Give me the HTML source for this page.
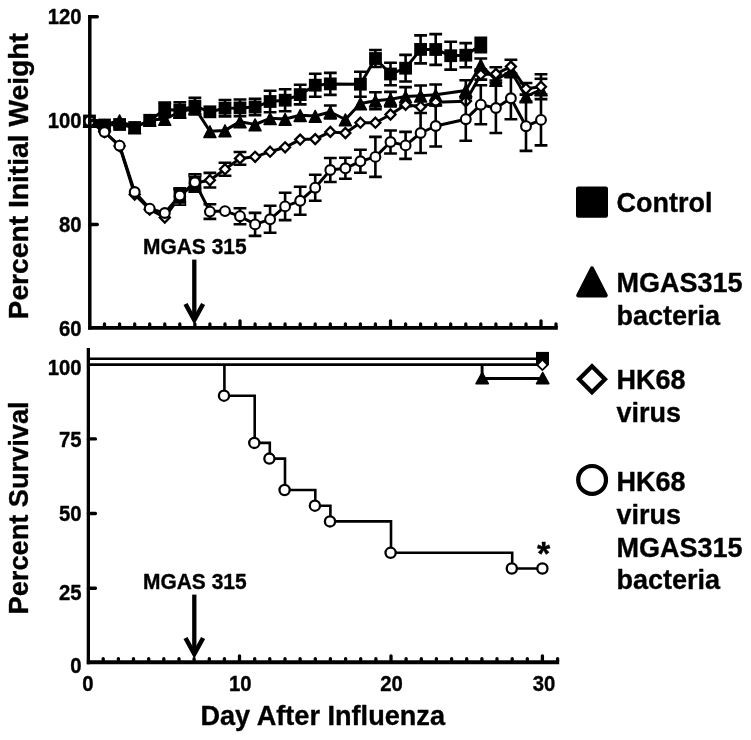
<!DOCTYPE html>
<html><head><meta charset="utf-8"><title>Chart</title>
<style>
html,body{margin:0;padding:0;background:#fff;}
body{width:751px;height:740px;position:relative;overflow:hidden;font-family:"Liberation Sans",sans-serif;}
</style></head><body>
<svg width="751" height="740" viewBox="0 0 751 740" style="position:absolute;left:0;top:0;display:block;will-change:transform">
<style>text{stroke:#000;stroke-width:0.35px;stroke-linejoin:round}</style>
<rect width="751" height="740" fill="#fff"/>
<defs><filter id="soft" x="0" y="0" width="751" height="740" filterUnits="userSpaceOnUse"><feGaussianBlur stdDeviation="0.42"/></filter></defs>
<g filter="url(#soft)" font-family="'Liberation Sans', sans-serif" font-weight="bold" fill="#000" stroke="#000" stroke-width="0">
<path fill="none" stroke="#000" stroke-width="2.6" d="M164.8 102.6V117.0M158.3 102.6H171.2M158.3 117.0H171.2M179.8 102.3V117.7M173.4 102.3H186.2M173.4 117.7H186.2M194.9 97.7V114.5M188.5 97.7H201.3M188.5 114.5H201.3M225.0 100.0V116.4M218.6 100.0H231.4M218.6 116.4H231.4M240.0 99.5V116.3M233.6 99.5H246.4M233.6 116.3H246.4M255.1 98.9V115.3M248.7 98.9H261.4M248.7 115.3H261.4M270.1 90.7V112.3M263.7 90.7H276.5M263.7 112.3H276.5M285.1 89.2V111.2M278.8 89.2H291.5M278.8 111.2H291.5M300.2 84.8V104.4M293.8 84.8H306.6M293.8 104.4H306.6M315.2 73.7V96.7M308.9 73.7H321.6M308.9 96.7H321.6M330.3 72.9V94.9M323.9 72.9H336.7M323.9 94.9H336.7M360.4 71.7V96.7M354.0 71.7H366.8M354.0 96.7H366.8M375.4 50.0V67.0M369.1 50.0H381.8M369.1 67.0H381.8M390.5 62.7V85.3M384.1 62.7H396.9M384.1 85.3H396.9M405.6 54.9V81.5M399.2 54.9H411.9M399.2 81.5H411.9M420.6 35.4V63.4M414.2 35.4H427.0M414.2 63.4H427.0M435.7 34.1V64.9M429.3 34.1H442.1M429.3 64.9H442.1M450.7 41.8V69.6M444.3 41.8H457.1M444.3 69.6H457.1M465.8 43.1V67.3M459.4 43.1H472.1M459.4 67.3H472.1M480.8 37.7V52.3M474.4 37.7H487.2M474.4 52.3H487.2"/>
<polyline fill="none" stroke="#000" stroke-width="3.0" stroke-linejoin="round" points="89.5,121.0 104.5,125.0 119.6,124.5 134.7,127.5 149.7,120.3 164.8,109.8 179.8,110.0 194.9,106.1 209.9,111.8 225.0,108.2 240.0,107.9 255.1,107.1 270.1,101.5 285.1,100.2 300.2,94.6 315.2,85.2 330.3,83.9 360.4,84.2 375.4,58.5 390.5,74.0 405.6,68.2 420.6,49.4 435.7,49.5 450.7,55.7 465.8,55.2 480.8,45.0"/>
<rect x="83.1" y="114.6" width="12.8" height="12.8" fill="#000"/><rect x="98.1" y="118.6" width="12.8" height="12.8" fill="#000"/><rect x="113.2" y="118.1" width="12.8" height="12.8" fill="#000"/><rect x="128.2" y="121.1" width="12.8" height="12.8" fill="#000"/><rect x="143.3" y="113.9" width="12.8" height="12.8" fill="#000"/><rect x="158.3" y="103.4" width="12.8" height="12.8" fill="#000"/><rect x="173.4" y="103.6" width="12.8" height="12.8" fill="#000"/><rect x="188.5" y="99.7" width="12.8" height="12.8" fill="#000"/><rect x="203.5" y="105.4" width="12.8" height="12.8" fill="#000"/><rect x="218.6" y="101.8" width="12.8" height="12.8" fill="#000"/><rect x="233.6" y="101.5" width="12.8" height="12.8" fill="#000"/><rect x="248.7" y="100.7" width="12.8" height="12.8" fill="#000"/><rect x="263.7" y="95.1" width="12.8" height="12.8" fill="#000"/><rect x="278.8" y="93.8" width="12.8" height="12.8" fill="#000"/><rect x="293.8" y="88.2" width="12.8" height="12.8" fill="#000"/><rect x="308.9" y="78.8" width="12.8" height="12.8" fill="#000"/><rect x="323.9" y="77.5" width="12.8" height="12.8" fill="#000"/><rect x="354.0" y="77.8" width="12.8" height="12.8" fill="#000"/><rect x="369.1" y="52.1" width="12.8" height="12.8" fill="#000"/><rect x="384.1" y="67.6" width="12.8" height="12.8" fill="#000"/><rect x="399.2" y="61.8" width="12.8" height="12.8" fill="#000"/><rect x="414.2" y="43.0" width="12.8" height="12.8" fill="#000"/><rect x="429.3" y="43.1" width="12.8" height="12.8" fill="#000"/><rect x="444.3" y="49.3" width="12.8" height="12.8" fill="#000"/><rect x="459.4" y="48.8" width="12.8" height="12.8" fill="#000"/><rect x="474.4" y="38.6" width="12.8" height="12.8" fill="#000"/>
<path fill="none" stroke="#000" stroke-width="2.6" d="M330.3 105.5V118.5M323.9 105.5H336.7M323.9 118.5H336.7M375.4 92.3V109.3M369.1 92.3H381.8M369.1 109.3H381.8M390.5 91.9V106.5M384.1 91.9H396.9M384.1 106.5H396.9M405.6 87.1V106.1M399.2 87.1H411.9M399.2 106.1H411.9M420.6 85.5V105.9M414.2 85.5H427.0M414.2 105.9H427.0M435.7 84.5V105.1M429.3 84.5H442.1M429.3 105.1H442.1M465.8 80.2V100.8M459.4 80.2H472.1M459.4 100.8H472.1M480.8 58.5V71.5M474.4 58.5H487.2M474.4 71.5H487.2"/>
<polyline fill="none" stroke="#000" stroke-width="3.0" stroke-linejoin="round" points="89.5,121.0 104.5,125.0 119.6,120.5 134.7,127.5 149.7,120.0 164.8,119.0 179.8,112.0 194.9,108.0 209.9,131.3 225.0,130.4 240.0,121.6 255.1,124.5 270.1,118.3 285.1,119.0 300.2,115.2 315.2,116.0 330.3,112.0 345.4,119.5 360.4,103.5 375.4,100.8 390.5,99.2 405.6,96.6 420.6,95.7 435.7,94.8 465.8,90.5 480.8,65.0 495.9,80.0 510.9,71.0 526.0,96.5 541.0,89.5"/>
<path d="M89.5 115.4L95.6 127.3L83.4 127.3Z" fill="#000" stroke="#000" stroke-width="1.4" stroke-linejoin="round"/><path d="M104.5 119.4L110.6 131.3L98.5 131.3Z" fill="#000" stroke="#000" stroke-width="1.4" stroke-linejoin="round"/><path d="M119.6 114.9L125.7 126.8L113.5 126.8Z" fill="#000" stroke="#000" stroke-width="1.4" stroke-linejoin="round"/><path d="M134.7 121.9L140.7 133.8L128.6 133.8Z" fill="#000" stroke="#000" stroke-width="1.4" stroke-linejoin="round"/><path d="M149.7 114.4L155.8 126.3L143.6 126.3Z" fill="#000" stroke="#000" stroke-width="1.4" stroke-linejoin="round"/><path d="M164.8 113.4L170.8 125.3L158.7 125.3Z" fill="#000" stroke="#000" stroke-width="1.4" stroke-linejoin="round"/><path d="M179.8 106.4L185.9 118.3L173.7 118.3Z" fill="#000" stroke="#000" stroke-width="1.4" stroke-linejoin="round"/><path d="M194.9 102.4L200.9 114.3L188.8 114.3Z" fill="#000" stroke="#000" stroke-width="1.4" stroke-linejoin="round"/><path d="M209.9 125.7L216.0 137.6L203.8 137.6Z" fill="#000" stroke="#000" stroke-width="1.4" stroke-linejoin="round"/><path d="M225.0 124.8L231.0 136.7L218.9 136.7Z" fill="#000" stroke="#000" stroke-width="1.4" stroke-linejoin="round"/><path d="M240.0 116.0L246.1 127.9L233.9 127.9Z" fill="#000" stroke="#000" stroke-width="1.4" stroke-linejoin="round"/><path d="M255.1 118.9L261.1 130.8L249.0 130.8Z" fill="#000" stroke="#000" stroke-width="1.4" stroke-linejoin="round"/><path d="M270.1 112.7L276.2 124.6L264.0 124.6Z" fill="#000" stroke="#000" stroke-width="1.4" stroke-linejoin="round"/><path d="M285.1 113.4L291.2 125.3L279.1 125.3Z" fill="#000" stroke="#000" stroke-width="1.4" stroke-linejoin="round"/><path d="M300.2 109.6L306.3 121.5L294.1 121.5Z" fill="#000" stroke="#000" stroke-width="1.4" stroke-linejoin="round"/><path d="M315.2 110.4L321.3 122.3L309.2 122.3Z" fill="#000" stroke="#000" stroke-width="1.4" stroke-linejoin="round"/><path d="M330.3 106.4L336.4 118.3L324.2 118.3Z" fill="#000" stroke="#000" stroke-width="1.4" stroke-linejoin="round"/><path d="M345.4 113.9L351.4 125.8L339.3 125.8Z" fill="#000" stroke="#000" stroke-width="1.4" stroke-linejoin="round"/><path d="M360.4 97.9L366.5 109.8L354.3 109.8Z" fill="#000" stroke="#000" stroke-width="1.4" stroke-linejoin="round"/><path d="M375.4 95.2L381.5 107.1L369.4 107.1Z" fill="#000" stroke="#000" stroke-width="1.4" stroke-linejoin="round"/><path d="M390.5 93.6L396.6 105.5L384.4 105.5Z" fill="#000" stroke="#000" stroke-width="1.4" stroke-linejoin="round"/><path d="M405.6 91.0L411.6 102.9L399.5 102.9Z" fill="#000" stroke="#000" stroke-width="1.4" stroke-linejoin="round"/><path d="M420.6 90.1L426.7 102.0L414.5 102.0Z" fill="#000" stroke="#000" stroke-width="1.4" stroke-linejoin="round"/><path d="M435.7 89.2L441.7 101.1L429.6 101.1Z" fill="#000" stroke="#000" stroke-width="1.4" stroke-linejoin="round"/><path d="M465.8 84.9L471.8 96.8L459.7 96.8Z" fill="#000" stroke="#000" stroke-width="1.4" stroke-linejoin="round"/><path d="M480.8 59.4L486.9 71.3L474.7 71.3Z" fill="#000" stroke="#000" stroke-width="1.4" stroke-linejoin="round"/><path d="M495.9 74.4L501.9 86.3L489.8 86.3Z" fill="#000" stroke="#000" stroke-width="1.4" stroke-linejoin="round"/><path d="M510.9 65.4L517.0 77.3L504.8 77.3Z" fill="#000" stroke="#000" stroke-width="1.4" stroke-linejoin="round"/><path d="M526.0 90.9L532.0 102.8L519.9 102.8Z" fill="#000" stroke="#000" stroke-width="1.4" stroke-linejoin="round"/><path d="M541.0 83.9L547.1 95.8L534.9 95.8Z" fill="#000" stroke="#000" stroke-width="1.4" stroke-linejoin="round"/>
<path fill="none" stroke="#000" stroke-width="2.6" d="M179.8 188.2V204.8M173.4 188.2H186.2M173.4 204.8H186.2M194.9 174.3V191.7M188.5 174.3H201.3M188.5 191.7H201.3M209.9 172.9V187.5M203.5 172.9H216.3M203.5 187.5H216.3M225.0 162.7V175.7M218.6 162.7H231.4M218.6 175.7H231.4M240.0 152.0V164.8M233.6 152.0H246.4M233.6 164.8H246.4M480.8 69.6V79.6M474.4 69.6H487.2M474.4 79.6H487.2M495.9 67.3V80.5M489.5 67.3H502.2M489.5 80.5H502.2M510.9 59.7V73.5M504.5 59.7H517.3M504.5 73.5H517.3M526.0 83.0V94.6M519.6 83.0H532.4M519.6 94.6H532.4M541.0 74.3V99.1M534.6 74.3H547.4M534.6 99.1H547.4"/>
<polyline fill="none" stroke="#000" stroke-width="3.0" stroke-linejoin="round" points="89.5,121.0 104.5,132.0 119.6,146.0 134.7,194.5 149.7,209.5 164.8,217.5 179.8,196.5 194.9,183.0 209.9,180.2 225.0,169.2 240.0,158.4 255.1,156.8 270.1,151.7 285.1,147.3 300.2,139.6 315.2,139.1 330.3,131.9 345.4,133.0 360.4,122.7 375.4,122.7 390.5,114.5 405.6,104.8 420.6,106.8 435.7,102.3 465.8,101.3 480.8,74.6 495.9,73.9 510.9,66.6 526.0,88.8 541.0,86.7"/>
<path d="M89.5 116.0L94.5 121.0L89.5 126.0L84.5 121.0Z" fill="#fff" stroke="#000" stroke-width="2.3"/><path d="M104.5 127.0L109.5 132.0L104.5 137.0L99.5 132.0Z" fill="#fff" stroke="#000" stroke-width="2.3"/><path d="M119.6 141.0L124.6 146.0L119.6 151.0L114.6 146.0Z" fill="#fff" stroke="#000" stroke-width="2.3"/><path d="M134.7 189.5L139.7 194.5L134.7 199.5L129.7 194.5Z" fill="#fff" stroke="#000" stroke-width="2.3"/><path d="M149.7 204.5L154.7 209.5L149.7 214.5L144.7 209.5Z" fill="#fff" stroke="#000" stroke-width="2.3"/><path d="M164.8 212.5L169.8 217.5L164.8 222.5L159.8 217.5Z" fill="#fff" stroke="#000" stroke-width="2.3"/><path d="M179.8 191.5L184.8 196.5L179.8 201.5L174.8 196.5Z" fill="#fff" stroke="#000" stroke-width="2.3"/><path d="M194.9 178.0L199.9 183.0L194.9 188.0L189.9 183.0Z" fill="#fff" stroke="#000" stroke-width="2.3"/><path d="M209.9 175.2L214.9 180.2L209.9 185.2L204.9 180.2Z" fill="#fff" stroke="#000" stroke-width="2.3"/><path d="M225.0 164.2L230.0 169.2L225.0 174.2L220.0 169.2Z" fill="#fff" stroke="#000" stroke-width="2.3"/><path d="M240.0 153.4L245.0 158.4L240.0 163.4L235.0 158.4Z" fill="#fff" stroke="#000" stroke-width="2.3"/><path d="M255.1 151.8L260.1 156.8L255.1 161.8L250.1 156.8Z" fill="#fff" stroke="#000" stroke-width="2.3"/><path d="M270.1 146.7L275.1 151.7L270.1 156.7L265.1 151.7Z" fill="#fff" stroke="#000" stroke-width="2.3"/><path d="M285.1 142.3L290.1 147.3L285.1 152.3L280.1 147.3Z" fill="#fff" stroke="#000" stroke-width="2.3"/><path d="M300.2 134.6L305.2 139.6L300.2 144.6L295.2 139.6Z" fill="#fff" stroke="#000" stroke-width="2.3"/><path d="M315.2 134.1L320.2 139.1L315.2 144.1L310.2 139.1Z" fill="#fff" stroke="#000" stroke-width="2.3"/><path d="M330.3 126.9L335.3 131.9L330.3 136.9L325.3 131.9Z" fill="#fff" stroke="#000" stroke-width="2.3"/><path d="M345.4 128.0L350.4 133.0L345.4 138.0L340.4 133.0Z" fill="#fff" stroke="#000" stroke-width="2.3"/><path d="M360.4 117.7L365.4 122.7L360.4 127.7L355.4 122.7Z" fill="#fff" stroke="#000" stroke-width="2.3"/><path d="M375.4 117.7L380.4 122.7L375.4 127.7L370.4 122.7Z" fill="#fff" stroke="#000" stroke-width="2.3"/><path d="M390.5 109.5L395.5 114.5L390.5 119.5L385.5 114.5Z" fill="#fff" stroke="#000" stroke-width="2.3"/><path d="M405.6 99.8L410.6 104.8L405.6 109.8L400.6 104.8Z" fill="#fff" stroke="#000" stroke-width="2.3"/><path d="M420.6 101.8L425.6 106.8L420.6 111.8L415.6 106.8Z" fill="#fff" stroke="#000" stroke-width="2.3"/><path d="M435.7 97.3L440.7 102.3L435.7 107.3L430.7 102.3Z" fill="#fff" stroke="#000" stroke-width="2.3"/><path d="M465.8 96.3L470.8 101.3L465.8 106.3L460.8 101.3Z" fill="#fff" stroke="#000" stroke-width="2.3"/><path d="M480.8 69.6L485.8 74.6L480.8 79.6L475.8 74.6Z" fill="#fff" stroke="#000" stroke-width="2.3"/><path d="M495.9 68.9L500.9 73.9L495.9 78.9L490.9 73.9Z" fill="#fff" stroke="#000" stroke-width="2.3"/><path d="M510.9 61.6L515.9 66.6L510.9 71.6L505.9 66.6Z" fill="#fff" stroke="#000" stroke-width="2.3"/><path d="M526.0 83.8L531.0 88.8L526.0 93.8L521.0 88.8Z" fill="#fff" stroke="#000" stroke-width="2.3"/><path d="M541.0 81.7L546.0 86.7L541.0 91.7L536.0 86.7Z" fill="#fff" stroke="#000" stroke-width="2.3"/>
<path fill="none" stroke="#000" stroke-width="2.6" d="M179.8 189.3V201.9M173.4 189.3H186.2M173.4 201.9H186.2M194.9 176.0V188.6M188.5 176.0H201.3M188.5 188.6H201.3M209.9 204.3V218.9M203.5 204.3H216.3M203.5 218.9H216.3M240.0 208.2V224.2M233.6 208.2H246.4M233.6 224.2H246.4M255.1 212.9V235.9M248.7 212.9H261.4M248.7 235.9H261.4M270.1 205.8V232.8M263.7 205.8H276.5M263.7 232.8H276.5M285.1 192.7V220.1M278.8 192.7H291.5M278.8 220.1H291.5M300.2 186.8V214.8M293.8 186.8H306.6M293.8 214.8H306.6M315.2 174.7V200.7M308.9 174.7H321.6M308.9 200.7H321.6M330.3 158.0V182.0M323.9 158.0H336.7M323.9 182.0H336.7M345.4 157.8V178.8M339.0 157.8H351.8M339.0 178.8H351.8M360.4 149.8V172.8M354.0 149.8H366.8M354.0 172.8H366.8M375.4 136.9V176.9M369.1 136.9H381.8M369.1 176.9H381.8M390.5 130.5V153.5M384.1 130.5H396.9M384.1 153.5H396.9M405.6 131.9V158.9M399.2 131.9H411.9M399.2 158.9H411.9M420.6 113.0V153.0M414.2 113.0H427.0M414.2 153.0H427.0M435.7 105.5V146.5M429.3 105.5H442.1M429.3 146.5H442.1M465.8 97.7V140.7M459.4 97.7H472.1M459.4 140.7H472.1M480.8 85.2V124.2M474.4 85.2H487.2M474.4 124.2H487.2M495.9 83.0V133.0M489.5 83.0H502.2M489.5 133.0H502.2M510.9 77.3V119.3M504.5 77.3H517.3M504.5 119.3H517.3M526.0 101.5V150.9M519.6 101.5H532.4M519.6 150.9H532.4M541.0 94.4V145.4M534.6 94.4H547.4M534.6 145.4H547.4"/>
<polyline fill="none" stroke="#000" stroke-width="3.0" stroke-linejoin="round" points="89.5,121.0 104.5,132.0 119.6,145.7 134.7,192.0 149.7,208.6 164.8,213.0 179.8,195.6 194.9,182.3 209.9,211.6 225.0,211.1 240.0,216.2 255.1,224.4 270.1,219.3 285.1,206.4 300.2,200.8 315.2,187.7 330.3,170.0 345.4,168.3 360.4,161.3 375.4,156.9 390.5,142.0 405.6,145.4 420.6,133.0 435.7,126.0 465.8,119.2 480.8,104.7 495.9,108.0 510.9,98.3 526.0,126.2 541.0,119.9"/>
<rect x="173.6" y="188.4" width="12.4" height="17.6" fill="#000"/>
<rect x="188.7" y="173.0" width="12.6" height="19.6" fill="#000"/>
<path fill="none" stroke="#8a8a8a" stroke-width="0.7" d="M189.3 175.5h4.5m2.5 0h4M174.4 204.0h4m2.5 0h4"/>
<circle cx="89.5" cy="121.0" r="4.9" fill="#fff" stroke="#000" stroke-width="2.1"/><circle cx="104.5" cy="132.0" r="4.9" fill="#fff" stroke="#000" stroke-width="2.1"/><circle cx="119.6" cy="145.7" r="4.9" fill="#fff" stroke="#000" stroke-width="2.1"/><circle cx="134.7" cy="192.0" r="4.9" fill="#fff" stroke="#000" stroke-width="2.1"/><circle cx="149.7" cy="208.6" r="4.9" fill="#fff" stroke="#000" stroke-width="2.1"/><circle cx="164.8" cy="213.0" r="4.9" fill="#fff" stroke="#000" stroke-width="2.1"/><circle cx="179.8" cy="195.6" r="4.9" fill="#fff" stroke="#000" stroke-width="2.1"/><circle cx="194.9" cy="182.3" r="4.9" fill="#fff" stroke="#000" stroke-width="2.1"/><circle cx="209.9" cy="211.6" r="4.9" fill="#fff" stroke="#000" stroke-width="2.1"/><circle cx="225.0" cy="211.1" r="4.9" fill="#fff" stroke="#000" stroke-width="2.1"/><circle cx="240.0" cy="216.2" r="4.9" fill="#fff" stroke="#000" stroke-width="2.1"/><circle cx="255.1" cy="224.4" r="4.9" fill="#fff" stroke="#000" stroke-width="2.1"/><circle cx="270.1" cy="219.3" r="4.9" fill="#fff" stroke="#000" stroke-width="2.1"/><circle cx="285.1" cy="206.4" r="4.9" fill="#fff" stroke="#000" stroke-width="2.1"/><circle cx="300.2" cy="200.8" r="4.9" fill="#fff" stroke="#000" stroke-width="2.1"/><circle cx="315.2" cy="187.7" r="4.9" fill="#fff" stroke="#000" stroke-width="2.1"/><circle cx="330.3" cy="170.0" r="4.9" fill="#fff" stroke="#000" stroke-width="2.1"/><circle cx="345.4" cy="168.3" r="4.9" fill="#fff" stroke="#000" stroke-width="2.1"/><circle cx="360.4" cy="161.3" r="4.9" fill="#fff" stroke="#000" stroke-width="2.1"/><circle cx="375.4" cy="156.9" r="4.9" fill="#fff" stroke="#000" stroke-width="2.1"/><circle cx="390.5" cy="142.0" r="4.9" fill="#fff" stroke="#000" stroke-width="2.1"/><circle cx="405.6" cy="145.4" r="4.9" fill="#fff" stroke="#000" stroke-width="2.1"/><circle cx="420.6" cy="133.0" r="4.9" fill="#fff" stroke="#000" stroke-width="2.1"/><circle cx="435.7" cy="126.0" r="4.9" fill="#fff" stroke="#000" stroke-width="2.1"/><circle cx="465.8" cy="119.2" r="4.9" fill="#fff" stroke="#000" stroke-width="2.1"/><circle cx="480.8" cy="104.7" r="4.9" fill="#fff" stroke="#000" stroke-width="2.1"/><circle cx="495.9" cy="108.0" r="4.9" fill="#fff" stroke="#000" stroke-width="2.1"/><circle cx="510.9" cy="98.3" r="4.9" fill="#fff" stroke="#000" stroke-width="2.1"/><circle cx="526.0" cy="126.2" r="4.9" fill="#fff" stroke="#000" stroke-width="2.1"/><circle cx="541.0" cy="119.9" r="4.9" fill="#fff" stroke="#000" stroke-width="2.1"/>
<path fill="none" stroke="#000" stroke-width="2.6" d="M534.6 78.8H547.4"/>
<path fill="none" stroke="#000" stroke-width="3.5" d="M89.8 14.9V329.6"/>
<path fill="none" stroke="#000" stroke-width="3.7" d="M88.1 327.8H557.8"/>
<path stroke="#000" stroke-width="3.4" stroke-linecap="round" d="M90 16.7H97.3M90 120.6H97.3M90 224.5H97.3"/>
<path stroke="#000" stroke-width="3.3" stroke-linecap="round" d="M104.5 327V323.9M119.6 327V323.9M134.7 327V323.9M149.7 327V323.9M164.8 327V323.9M179.8 327V323.9M194.9 327V323.9M209.9 327V323.9M225.0 327V323.9M240.0 327V320.8M255.1 327V323.9M270.1 327V323.9M285.1 327V323.9M300.2 327V323.9M315.2 327V323.9M330.3 327V323.9M345.4 327V323.9M360.4 327V323.9M375.4 327V323.9M390.5 327V320.8M405.6 327V323.9M420.6 327V323.9M435.7 327V323.9M450.7 327V323.9M465.8 327V323.9M480.8 327V323.9M495.9 327V323.9M510.9 327V323.9M526.0 327V323.9M541.0 327V320.8M556.0 327V323.9"/>
<text transform="translate(81.5 23.7) scale(1 1.07)" font-size="20.3" text-anchor="end">120</text>
<text transform="translate(81.5 128.4) scale(1 1.07)" font-size="20.3" text-anchor="end">100</text>
<text transform="translate(81.5 232.3) scale(1 1.07)" font-size="20.3" text-anchor="end">80</text>
<text transform="translate(81.5 336.1) scale(1 1.07)" font-size="20.3" text-anchor="end">60</text>
<text transform="translate(143 253.6) scale(1 1.04)" font-size="20.5" textLength="103.6" lengthAdjust="spacingAndGlyphs">MGAS 315</text>
<path fill="none" stroke="#000" stroke-width="4.3" d="M194.3 259.6V319.5"/>
<path fill="none" stroke="#000" stroke-width="4.6" stroke-linejoin="miter" stroke-miterlimit="10" d="M185.5 304.0L194.3 320.0L203.1 304.0"/>
<path fill="none" stroke="#000" stroke-width="2.5" d="M88.4 358.7H542.4"/>
<path fill="none" stroke="#000" stroke-width="2.7" d="M88.4 364.6H542.4"/>
<path fill="none" stroke="#000" stroke-width="2.9" d="M482.1 364.4V378.5H542.4"/>
<path fill="none" stroke="#000" stroke-width="2.6" stroke-linejoin="miter" d="M224.4 364.4V395.7H254.7V442.9H269.8V458.6H285.0V490.0H315.3V505.7H330.4V521.4H391.0V552.8H512.2V568.5H542.4"/>
<rect x="536.0" y="351.9" width="13.0" height="13.0" fill="#000"/>
<path d="M542.4 359.7L547.6 364.9L542.4 370.1L537.2 364.9Z" fill="#fff" stroke="#000" stroke-width="1.8"/>
<path d="M482.2 372.4L488.4 383.7L476.0 383.7Z" fill="#000" stroke="#000" stroke-width="1.4" stroke-linejoin="round"/>
<path d="M542.7 372.4L548.9 383.7L536.5 383.7Z" fill="#000" stroke="#000" stroke-width="1.4" stroke-linejoin="round"/>
<circle cx="224.0" cy="395.7" r="5.1" fill="#fff" stroke="#000" stroke-width="2.3"/>
<circle cx="254.3" cy="442.9" r="5.1" fill="#fff" stroke="#000" stroke-width="2.3"/>
<circle cx="269.4" cy="458.6" r="5.1" fill="#fff" stroke="#000" stroke-width="2.3"/>
<circle cx="284.6" cy="490.0" r="5.1" fill="#fff" stroke="#000" stroke-width="2.3"/>
<circle cx="314.9" cy="505.7" r="5.1" fill="#fff" stroke="#000" stroke-width="2.3"/>
<circle cx="330.0" cy="521.4" r="5.1" fill="#fff" stroke="#000" stroke-width="2.3"/>
<circle cx="390.6" cy="552.8" r="5.1" fill="#fff" stroke="#000" stroke-width="2.3"/>
<circle cx="511.8" cy="568.5" r="5.1" fill="#fff" stroke="#000" stroke-width="2.3"/>
<circle cx="542.4" cy="568.5" r="5.1" fill="#fff" stroke="#000" stroke-width="2.3"/>
<text x="543.6" y="565" font-size="34" text-anchor="middle">*</text>
<path fill="none" stroke="#000" stroke-width="3.3" d="M88.35 348.1V664.2"/>
<path fill="none" stroke="#000" stroke-width="3.9" d="M86.85 662.3H559.2"/>
<path stroke="#000" stroke-width="3.4" stroke-linecap="round" d="M88.4 438.9H95.4M88.4 513.5H95.4M88.4 588.2H95.4"/>
<path stroke="#000" stroke-width="3.3" stroke-linecap="round" d="M103.2 661V658.6M118.4 661V658.6M133.5 661V658.6M148.7 661V658.6M163.8 661V658.6M179.0 661V658.6M194.1 661V658.6M209.3 661V658.6M224.4 661V658.6M239.5 661V655.8M254.7 661V658.6M269.8 661V658.6M285.0 661V658.6M300.1 661V658.6M315.3 661V658.6M330.4 661V658.6M345.6 661V658.6M360.7 661V658.6M375.9 661V658.6M391.0 661V655.8M406.1 661V658.6M421.3 661V658.6M436.4 661V658.6M451.6 661V658.6M466.7 661V658.6M481.9 661V658.6M497.0 661V658.6M512.2 661V658.6M527.3 661V658.6M542.4 661V655.8M557.6 661V658.6"/>
<text transform="translate(81.5 374.5) scale(1 1.07)" font-size="20.3" text-anchor="end">100</text>
<text transform="translate(81.5 447.4) scale(1 1.07)" font-size="20.3" text-anchor="end">75</text>
<text transform="translate(81.5 520.6) scale(1 1.07)" font-size="20.3" text-anchor="end">50</text>
<text transform="translate(81.5 600.0) scale(1 1.07)" font-size="20.3" text-anchor="end">25</text>
<text transform="translate(81.5 673.4) scale(1 1.07)" font-size="20.3" text-anchor="end">0</text>
<text transform="translate(88.0 690.6) scale(1 1.07)" font-size="20.3" text-anchor="middle">0</text>
<text transform="translate(240.2 690.6) scale(1 1.07)" font-size="20.3" text-anchor="middle">10</text>
<text transform="translate(391.5 690.6) scale(1 1.07)" font-size="20.3" text-anchor="middle">20</text>
<text transform="translate(544.0 690.6) scale(1 1.07)" font-size="20.3" text-anchor="middle">30</text>
<text transform="translate(143 588.6) scale(1 1.04)" font-size="20.5" textLength="103.6" lengthAdjust="spacingAndGlyphs">MGAS 315</text>
<path fill="none" stroke="#000" stroke-width="4.3" d="M194.3 594.6V653.5"/>
<path fill="none" stroke="#000" stroke-width="4.6" stroke-linejoin="miter" stroke-miterlimit="10" d="M185.5 638.0L194.3 654.0L203.1 638.0"/>
<text x="200.4" y="725" font-size="27" textLength="244.6" lengthAdjust="spacingAndGlyphs">Day After Influenza</text>
<text transform="translate(28.3 319.4) rotate(-90)" font-size="27" textLength="286.4" lengthAdjust="spacingAndGlyphs">Percent Initial Weight</text>
<text transform="translate(28.3 614.4) rotate(-90)" font-size="27" textLength="213" lengthAdjust="spacingAndGlyphs">Percent Survival</text>
<rect x="576" y="186.4" width="32" height="31.4" rx="2.2" fill="#000"/>
<path d="M592 268.3L605.8 295.5H578.2Z" fill="#000" stroke="#000" stroke-width="4" stroke-linejoin="round"/>
<path d="M592 366.25L604.95 379.2L592 392.15L579.05 379.2Z" fill="#fff" stroke="#000" stroke-width="4.3" stroke-linejoin="miter"/>
<circle cx="592.1" cy="479.9" r="13.9" fill="#fff" stroke="#000" stroke-width="4.2"/>
<text x="616.5" y="211.5" font-size="27">Control</text>
<text x="616.5" y="292.1" font-size="27">MGAS315</text>
<text x="616.5" y="325.0" font-size="27">bacteria</text>
<text x="616.5" y="388.6" font-size="27">HK68</text>
<text x="616.5" y="421.6" font-size="27">virus</text>
<text x="616.5" y="491.2" font-size="27">HK68</text>
<text x="616.5" y="523.8" font-size="27">virus</text>
<text x="616.5" y="556.5" font-size="27">MGAS315</text>
<text x="616.5" y="589.1" font-size="27">bacteria</text>
</g></svg>
</body></html>
